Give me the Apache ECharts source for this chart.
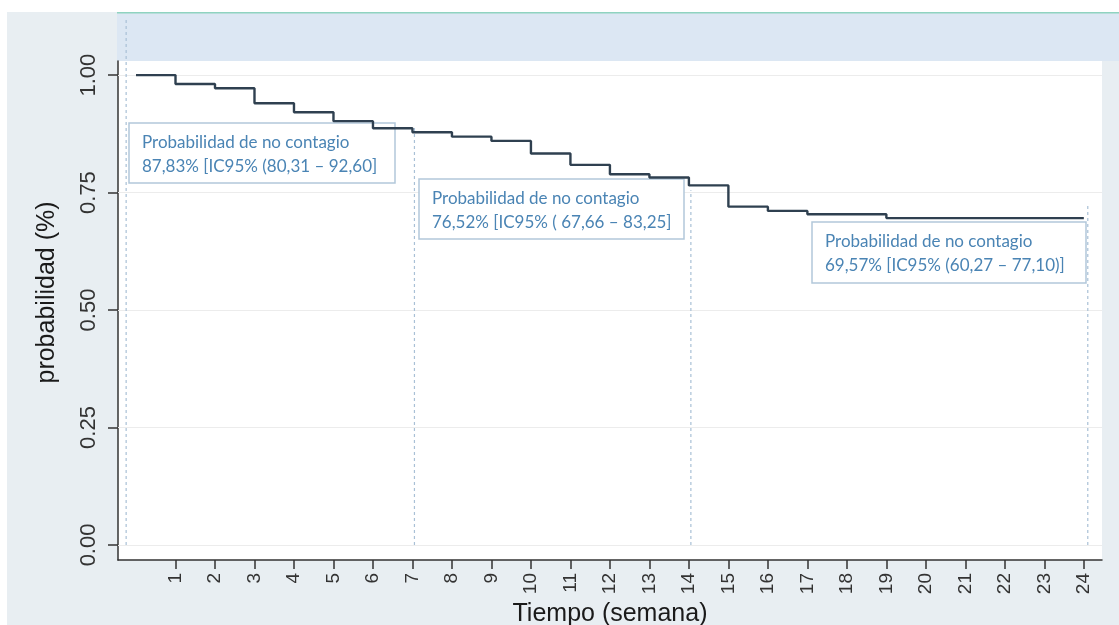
<!DOCTYPE html>
<html>
<head>
<meta charset="utf-8">
<script src="https://cdn.jsdelivr.net/npm/echarts@6/dist/echarts.min.js"></script>
<style>
html,body{margin:0;padding:0;background:#ffffff;}
#c{width:1119px;height:625px;}
</style>
</head>
<body>
<div id="c"></div>
<script>
// ---- data ----
const weeks = [0,1,2,3,4,5,6,7,8,9,10,11,12,13,14,15,16,17,18,19,20,21,22,23,24];
const survival = [1.000,0.981,0.972,0.940,0.921,0.902,0.887,0.8783,0.869,0.860,0.833,0.809,0.789,0.782,0.7652,0.720,0.711,0.704,0.704,0.6957,0.6957,0.6957,0.6957,0.6957,0.6957];
const xTicks = [1,2,3,4,5,6,7,8,9,10,11,12,13,14,15,16,17,18,19,20,21,22,23,24];
const yTicks = [0,0.25,0.5,0.75,1];
const refWeeks = [-0.25, 7.05, 14.05, 24.1];
const refTops = [1.117, 0.894, 0.755, 0.723];
const annotTitle = 'Probabilidad de no contagio';
const annotValues = ['87,83% [IC95% (80,31 – 92,60]', '76,52% [IC95% ( 67,66 – 83,25]', '69,57% [IC95% (60,27 – 77,10)]'];

const chart = echarts.init(document.getElementById('c'));

const stepData = weeks.map((w,i)=>[w, survival[i]]);

const refSeries = refWeeks.map((w,i)=>({
  type:'line', data:[[w,0],[w,refTops[i]]], symbol:'none', silent:true, clip:false, z:3,
  lineStyle:{color:'#a9c0d6', width:1.2, type:[3,3]}
}));

const boxes = [
  {x:129, y:123, w:266, h:60},
  {x:419, y:179, w:265, h:60},
  {x:812, y:222, w:274, h:61}
];
const graphics = [
  {type:'rect', shape:{x:7,y:12,width:1112,height:613}, style:{fill:'#e8eef2'}, z:-10, silent:true},
  {type:'rect', shape:{x:117,y:12,width:1002,height:49}, style:{fill:'#dce7f3'}, z:-9, silent:true},
  {type:'rect', shape:{x:117,y:12,width:1002,height:1.5}, style:{fill:'#8fd3c0'}, z:-8, silent:true},
  {type:'rect', shape:{x:118,y:61,width:984,height:499}, style:{fill:'#ffffff'}, z:-8, silent:true}
];
boxes.forEach((b,i)=>{
  graphics.push({type:'rect', shape:{x:b.x,y:b.y,width:b.w,height:b.h}, style:{fill:'#ffffff', stroke:'#b2c8da', lineWidth:1.5}, z:2, silent:true});
  graphics.push({type:'text', x:b.x+13, y:b.y+8, style:{text:annotTitle+'\n'+annotValues[i], font:'17px Lato', fill:'#4a84b4', lineHeight:24}, z:2, silent:true});
});

chart.setOption({
  animation:false,
  backgroundColor:'transparent',
  grid:{left:118, right:17, top:61, bottom:65, outerBoundsMode:'none', containLabel:false},
  xAxis:{
    type:'value', min:-0.456, max:24.46,
    name:'Tiempo (semana)', nameLocation:'middle', nameGap:32,
    nameTextStyle:{fontFamily:'Liberation Sans', fontSize:25, color:'#1a1a1a'},
    axisLine:{show:true, onZero:false, lineStyle:{color:'#333', width:1.5}},
    axisTick:{show:true, length:9, inside:false, customValues:xTicks, lineStyle:{color:'#333', width:1.5}},
    axisLabel:{show:true, customValues:xTicks, rotate:90, margin:13, fontFamily:'Liberation Sans', fontSize:19, color:'#333'},
    splitLine:{show:false}
  },
  yAxis:{
    type:'value', min:-0.032, max:1.03,
    name:'probabilidad (%)', nameLocation:'middle', nameGap:58,
    nameTextStyle:{fontFamily:'Liberation Sans', fontSize:25, color:'#1a1a1a', padding:[0,0,0,36]},
    axisLine:{show:true, onZero:false, lineStyle:{color:'#333', width:1.5}},
    axisTick:{show:true, length:10, inside:false, customValues:yTicks, lineStyle:{color:'#333', width:1.5}},
    axisLabel:{show:true, customValues:yTicks, rotate:90, margin:18, fontFamily:'Liberation Sans', fontSize:22, color:'#333', formatter:v=>v.toFixed(2)},
    splitLine:{show:false}
  },
  graphic:graphics,
  series:[
    {type:'line', data:[], silent:true, z:1,
     markLine:{silent:true, z:1, symbol:'none', label:{show:false}, lineStyle:{color:'#ececec', width:1.2, type:'solid'},
       data:yTicks.map(v=>({yAxis:v}))}},
    ...refSeries,
    {type:'line', step:'end', data:stepData, symbol:'none', z:10,
     lineStyle:{color:'#2f4050', width:2.4}}
  ]
});
</script>
</body>
</html>
